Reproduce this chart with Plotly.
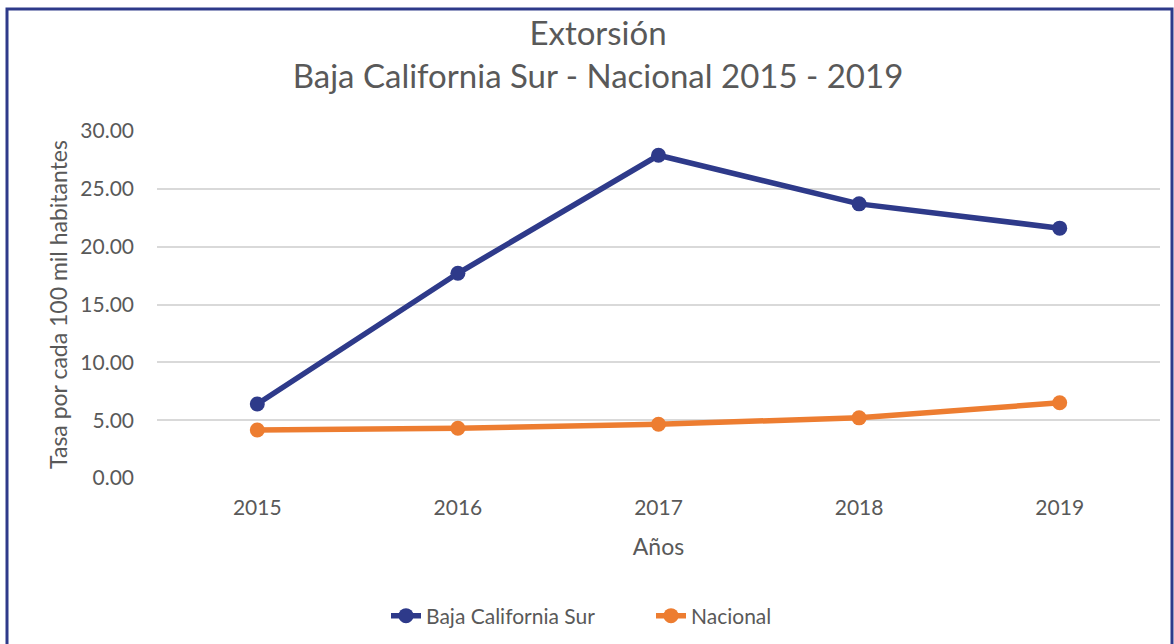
import plotly.graph_objects as go

years = ["2015", "2016", "2017", "2018", "2019"]
bcs = [6.4, 17.7, 27.9, 23.7, 21.6]
nacional = [4.15, 4.3, 4.65, 5.2, 6.5]
y_ticks = [0, 5, 10, 15, 20, 25, 30]
y_ticklabels = ["0.00", "5.00", "10.00", "15.00", "20.00", "25.00", "30.00"]

W, H = 1174, 644
L, R, T, B = 157, 1160, 131, 478
pw, ph = R - L, B - T

def px(x):
    return (x - L) / pw

def py(y):
    return (B - y) / ph

font_fam = "Lato, 'Open Sans', sans-serif"
gray = "#595959"
navy = "#2E3A8A"
orange = "#ED7D31"

fig = go.Figure()
fig.add_trace(go.Scatter(x=years, y=bcs, mode="lines+markers", name="Baja California Sur",
                         line=dict(color=navy, width=5.5), marker=dict(size=15, color=navy)))
fig.add_trace(go.Scatter(x=years, y=nacional, mode="lines+markers", name="Nacional",
                         line=dict(color=orange, width=5.5), marker=dict(size=15, color=orange)))

fig.update_layout(
    width=W, height=H,
    margin=dict(l=L, r=W - R, t=T, b=H - B, autoexpand=False),
    paper_bgcolor="white", plot_bgcolor="white",
    font=dict(family=font_fam, color=gray, size=21),
    title=dict(text="Extorsión<br>Baja California Sur - Nacional 2015 - 2019",
               x=598 / W, xref="container", xanchor="center",
               y=1 - 45 / H, yref="container", yanchor="middle",
               font=dict(size=33, color=gray, family=font_fam)),
    xaxis=dict(type="category", range=[-0.5, 4.5], showgrid=False, showline=False,
               ticks="", ticklabelstandoff=15, tickfont=dict(size=21, color=gray),
               title=dict(text="Años", font=dict(size=23, color=gray), standoff=20)),
    yaxis=dict(range=[0, 30], tickvals=y_ticks, ticktext=y_ticklabels,
               showgrid=True, gridcolor="#D9D9D9", gridwidth=2, zeroline=False,
               showline=False, ticks="", ticklabelstandoff=22,
               tickfont=dict(size=21, color=gray),
               title=dict(text="Tasa por cada 100 mil habitantes", font=dict(size=23, color=gray), standoff=6)),
    legend=dict(orientation="h", xref="container", yref="container",
                x=651 / W, xanchor="center", y=1 - 616 / H, yanchor="middle",
                font=dict(size=21, color=gray), bgcolor="rgba(0,0,0,0)",
                entrywidth=220, entrywidthmode="pixels"),
    showlegend=True,
)

# border
fig.add_shape(type="rect", xref="paper", yref="paper",
              x0=px(7), x1=px(1172), y0=py(660), y1=py(9),
              line=dict(color=navy, width=3), fillcolor="rgba(0,0,0,0)", layer="above")

fig.write_html("out.html", config={"displayModeBar": False},
               post_script="document.body.style.margin='0';document.body.style.overflow='hidden';")
